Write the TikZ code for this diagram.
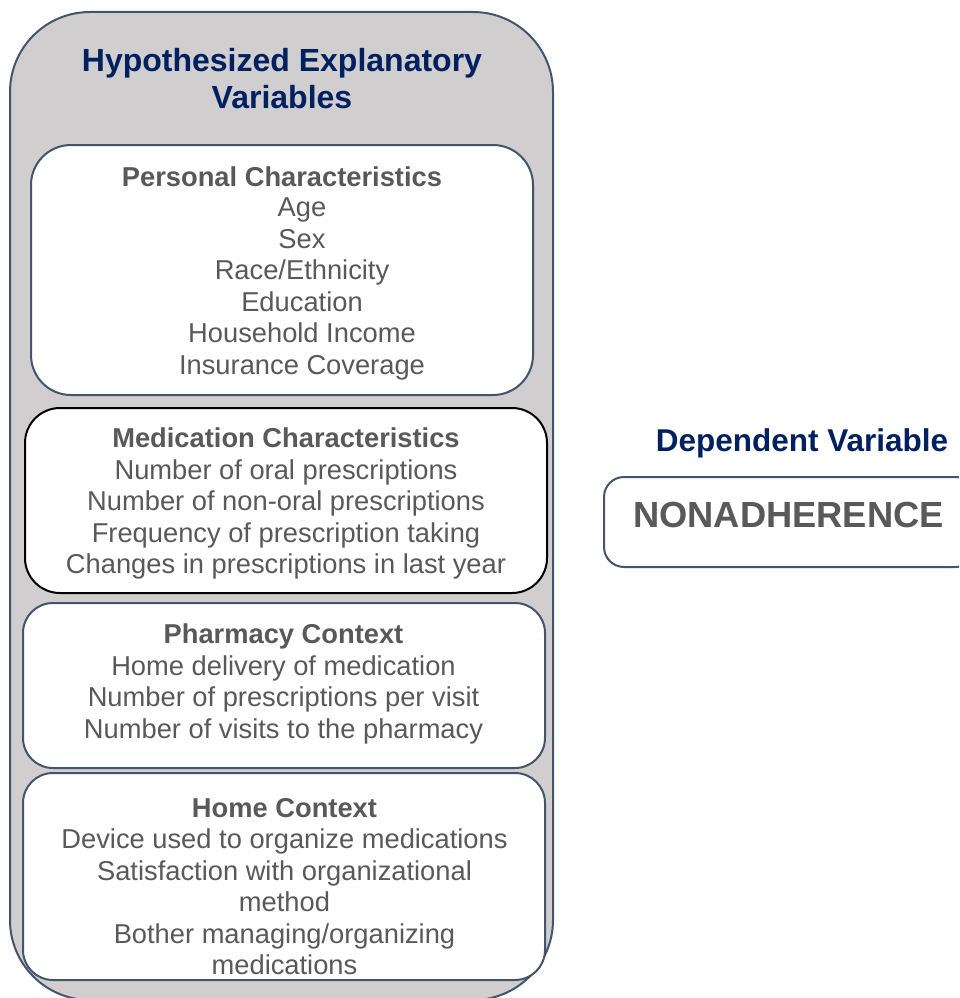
\documentclass[tikz,border=0pt]{standalone}
\usepackage{fontspec}
\setmainfont{Liberation Sans}
\definecolor{navy}{HTML}{002060}
\definecolor{slate}{HTML}{44546A}
\definecolor{panel}{HTML}{D0CECE}
\definecolor{txtgray}{HTML}{595959}
\tikzset{
  groupbox/.style={draw=slate, fill=panel, line width=2pt, rounded corners=80pt},
  varbox/.style={draw=slate, fill=white, line width=2pt},
  head/.style={font=\bfseries\fontsize{27.3}{31.5}\selectfont, text=txtgray},
  items/.style={align=center, font=\fontsize{27.3}{31.5}\selectfont, text=txtgray},
  title/.style={align=center, font=\bfseries\fontsize{32}{37}\selectfont, text=navy},
}
\begin{document}
\begin{tikzpicture}[x=1pt, y=-1pt]
  \useasboundingbox (0,0) rectangle (959,998);
  \clip (0,0) rectangle (959,998);
  % Explanatory side
  \node[groupbox, minimum width=543, minimum height=988] (expl) at (281.5,506) {};
  \node[title] (expltitle) at (282,79) {Hypothesized Explanatory\\Variables};
  % Personal characteristics
  \node[varbox, rounded corners=40pt, minimum width=502, minimum height=250] (pers) at (282,270) {};
  \node[head] (pershead) at (282,177) {Personal Characteristics};
  \node[items] (persitems) at (302,289) {Age\\Sex\\Race/Ethnicity\\Education\\Household Income\\Insurance Coverage};
  % Medication characteristics
  \node[varbox, draw=black, rounded corners=35pt, minimum width=522, minimum height=185] (med) at (286,500.5) {};
  \node[items] (meditems) at (286,503.5) {\textbf{Medication Characteristics}\\Number of oral prescriptions\\Number of non-oral prescriptions\\Frequency of prescription taking\\Changes in prescriptions in last year};
  % Pharmacy context
  \node[varbox, rounded corners=30pt, minimum width=522, minimum height=165] (pharm) at (284,685.5) {};
  \node[items] (pharmitems) at (283.5,684) {\textbf{Pharmacy Context}\\Home delivery of medication\\Number of prescriptions per visit\\Number of visits to the pharmacy};
  % Home context
  \node[varbox, rounded corners=30pt, minimum width=522, minimum height=207] (home) at (284,876.5) {};
  \node[items] (homeitems) at (284.5,886.5) {\textbf{Home Context}\\Device used to organize medications\\Satisfaction with organizational\\method\\Bother managing/organizing\\medications};
  % Dependent side
  \node[title, font=\bfseries\fontsize{31.5}{37}\selectfont] (deptitle) at (802,443) {Dependent Variable};
  \node[varbox, rounded corners=20pt, minimum width=372, minimum height=90] (dep) at (790,522) {};
  \node[head, font=\bfseries\fontsize{36.3}{42}\selectfont] (deptext) at (788.5,515) {NONADHERENCE};
\end{tikzpicture}
\end{document}
